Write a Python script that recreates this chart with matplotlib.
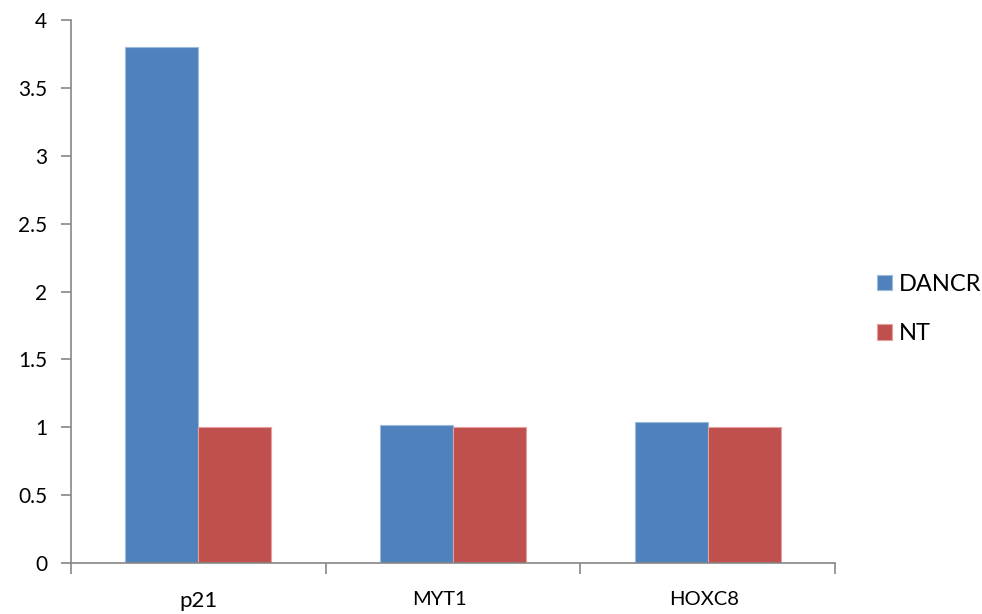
import matplotlib
matplotlib.use("Agg")
import matplotlib.pyplot as plt
import matplotlib.transforms as mtransforms
import numpy as np

genes = ["p21", "MYT1", "HOXC8"]
dancr = [3.80, 1.02, 1.04]
nt = [1.00, 1.00, 1.00]
series_names = ["DANCR", "NT"]
y_ticks = [0, 0.5, 1, 1.5, 2, 2.5, 3, 3.5, 4]
y_tick_labels = ["0", "0.5", "1", "1.5", "2", "2.5", "3", "3.5", "4"]

plt.rcParams["font.family"] = ["Lato", "DejaVu Sans"]

fig = plt.figure(figsize=(9.82, 6.14), dpi=100)
ax = fig.add_axes([71 / 982, 51 / 614, 764 / 982, 543 / 614])

x = np.arange(len(genes))
w = 0.286
blue = "#4F81BD"
red = "#C0504D"
b1 = ax.bar(x - w / 2, dancr, w, color=blue, edgecolor="#9DB9DC", linewidth=0.8, label=series_names[0])
b2 = ax.bar(x + w / 2, nt, w, color=red, edgecolor="#E3A09E", linewidth=0.8, label=series_names[1])

ax.set_xlim(-0.5, len(genes) - 0.5)
ax.set_ylim(0, 4)
ax.set_yticks(y_ticks)
ax.set_yticklabels(y_tick_labels, fontsize=15)

axis_grey = "#868686"
for side in ["top", "right"]:
    ax.spines[side].set_visible(False)
for side in ["left", "bottom"]:
    ax.spines[side].set_color(axis_grey)
    ax.spines[side].set_linewidth(1.2)

ax.tick_params(axis="y", length=7, width=1.2, color=axis_grey, pad=10)
# category boundaries carry the x ticks; names sit at the group centres
ax.set_xticks(np.arange(len(genes) + 1) - 0.5)
ax.set_xticklabels([])
ax.tick_params(axis="x", length=8, width=1.2, color=axis_grey)
ax.set_xticks(x, minor=True)
ax.set_xticklabels(genes, minor=True)
ax.tick_params(axis="x", which="minor", length=0, pad=20)
label_sizes = [16, 14.5, 14.5]
label_shifts = [0, -14, -4]
for lab, fs, dx in zip(ax.get_xticklabels(minor=True), label_sizes, label_shifts):
    lab.set_fontsize(fs)
    lab.set_transform(lab.get_transform() + mtransforms.ScaledTranslation(dx / 100, 0, fig.dpi_scale_trans))

fig.legend(handles=[b1, b2], labels=series_names, loc="center left",
           bbox_to_anchor=(877 / 982, 1 - 309 / 614), frameon=False,
           borderpad=0, borderaxespad=0,
           fontsize=17, handlelength=0.64, handleheight=0.64, labelspacing=1.2,
           handletextpad=0.3)

fig.savefig("out.png", dpi=100)
